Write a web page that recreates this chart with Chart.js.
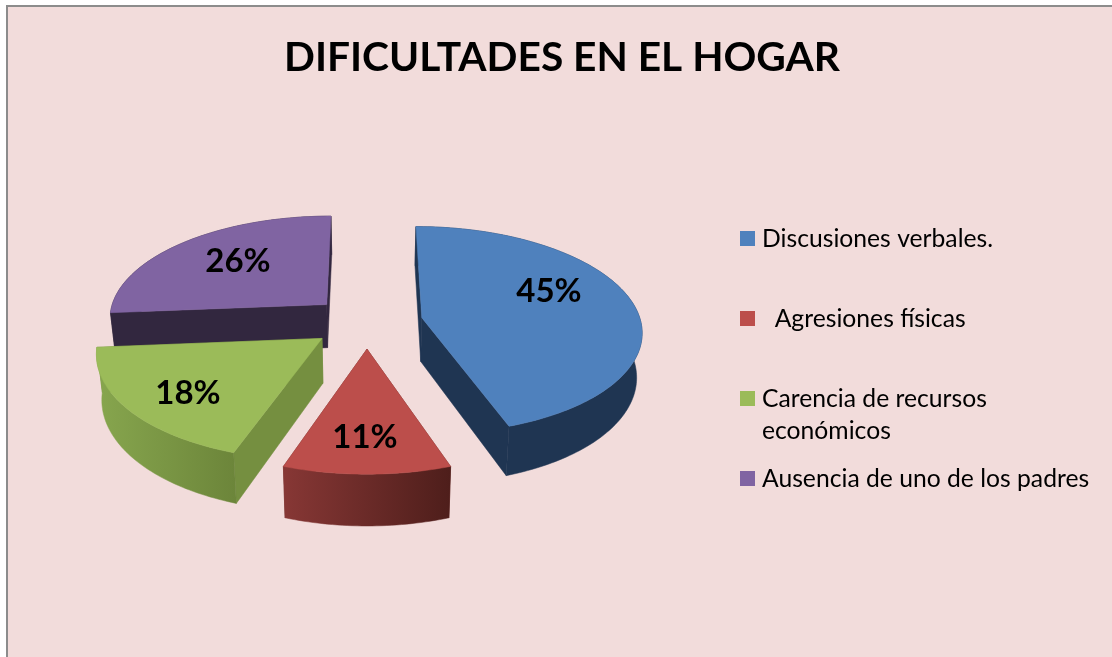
<!DOCTYPE html>
<html lang="es">
<head>
<meta charset="utf-8">
<title>Dificultades en el hogar</title>
<script src="https://cdn.jsdelivr.net/npm/chart.js@4"></script>
<style>html,body{margin:0;padding:0;background:#fff}canvas{display:block}</style>
</head>
<body>
<canvas id="c" width="1112" height="657"></canvas>
<script>
const titleText = 'DIFICULTADES EN EL HOGAR';
const categories = ['Discusiones verbales.', '  Agresiones físicas', 'Carencia de recursos económicos', 'Ausencia de uno de los padres'];
const legendLines = [['Discusiones verbales.'], ['  Agresiones físicas'], ['Carencia de recursos', 'económicos'], ['Ausencia de uno de los padres']];
const values = [44.7, 10.6, 18.4, 26.3];
const topColors = ['#4f81bd', '#bc4e4b', '#9bbb59', '#8064a2'];
const radialWallColors = ['#1f3552', '#6b2a27', '#758f40', '#32273f'];
const outerWallLeft = ['#1f3552', '#873735', '#87a64e', '#32273f'];
const outerWallRight = ['#1f3552', '#4e1e1b', '#6c853a', '#32273f'];
const labelCenters = [[549, 291], [365, 437], [188, 393], [238, 261]];
const legendRows = [239, 319, 399, 479];

const view = {cx: 367, cy: 322, rx: 219, ry: 103, persp: 0.12, depth: 44, taper: 0.02, explode: 0.255};

function project(x, y, z) {
  const w = 1 - view.persp * y;
  return [view.cx + view.rx * x * (1 - view.taper * z) / w, view.cy + (view.ry * y + view.depth * z) / w];
}
function poly(ctx, pts, fill) {
  ctx.beginPath();
  pts.forEach((p, i) => i ? ctx.lineTo(p[0], p[1]) : ctx.moveTo(p[0], p[1]));
  ctx.closePath();
  ctx.fillStyle = fill;
  ctx.strokeStyle = fill;
  ctx.lineWidth = 0.5;
  ctx.fill();
  ctx.stroke();
}

const page = {
  id: 'page',
  beforeDraw(chart) {
    const ctx = chart.ctx;
    ctx.save();
    ctx.fillStyle = '#ffffff';
    ctx.fillRect(0, 0, chart.width, chart.height);
    ctx.fillStyle = '#8c8c8c';
    ctx.fillRect(6, 5, chart.width - 6, chart.height - 5);
    ctx.fillStyle = '#f2dcdb';
    ctx.fillRect(8, 7, chart.width - 8, chart.height - 7);
    ctx.restore();
  }
};

const pie3d = {
  id: 'pie3d',
  beforeDatasetsDraw(chart) {
    const ctx = chart.ctx;
    const arcs = chart.getDatasetMeta(0).data;
    const slices = arcs.map((arc, i) => {
      const a0 = arc.startAngle + Math.PI / 2, a1 = arc.endAngle + Math.PI / 2;
      const mid = (a0 + a1) / 2;
      const ox = Math.sin(mid) * view.explode, oy = -Math.cos(mid) * view.explode;
      const rim = [];
      const n = Math.ceil((a1 - a0) / 0.02);
      for (let k = 0; k <= n; k++) {
        const t = a0 + (a1 - a0) * k / n;
        rim.push([ox + Math.sin(t), oy - Math.cos(t)]);
      }
      return {i, ox, oy, rim, sortY: oy};
    });
    slices.sort((a, b) => a.sortY - b.sortY);
    ctx.save();
    for (const s of slices) {
      const apex = [s.ox, s.oy];
      const first = s.rim[0], last = s.rim[s.rim.length - 1];
      const walls = [[apex, first], [apex, last]].sort((a, b) => (a[0][1] + a[1][1]) - (b[0][1] + b[1][1]));
      const quad = (w) => [project(w[0][0], w[0][1], 0), project(w[1][0], w[1][1], 0), project(w[1][0], w[1][1], 1), project(w[0][0], w[0][1], 1)];
      poly(ctx, quad(walls[0]), radialWallColors[s.i]);
      poly(ctx, quad(walls[1]), radialWallColors[s.i]);
      const tops = s.rim.map(p => project(p[0], p[1], 0));
      const bottoms = s.rim.map(p => project(p[0], p[1], 1)).reverse();
      const outer = tops.concat(bottoms);
      const xs = outer.map(p => p[0]);
      const g = ctx.createLinearGradient(Math.min(...xs), 0, Math.max(...xs), 0);
      g.addColorStop(0, outerWallLeft[s.i]);
      g.addColorStop(1, outerWallRight[s.i]);
      poly(ctx, outer, g);
      poly(ctx, [project(apex[0], apex[1], 0)].concat(tops), topColors[s.i]);
    }
    ctx.restore();
    return false;
  }
};

const overlay = {
  id: 'overlay',
  afterDraw(chart) {
    const ctx = chart.ctx;
    ctx.save();
    ctx.fillStyle = '#000';
    ctx.textAlign = 'center';
    ctx.textBaseline = 'middle';
    ctx.font = 'bold 33px Lato';
    values.forEach((v, i) => ctx.fillText(Math.round(v) + '%', labelCenters[i][0], labelCenters[i][1]));
    ctx.textAlign = 'left';
    ctx.font = '24.7px Lato';
    legendLines.forEach((lines, i) => {
      ctx.fillStyle = topColors[i];
      ctx.fillRect(740, legendRows[i] - 8, 15, 15);
      ctx.fillStyle = '#000';
      lines.forEach((t, k) => ctx.fillText(t, 762, legendRows[i] + k * 32));
    });
    ctx.restore();
  }
};

new Chart(document.getElementById('c'), {
  type: 'pie',
  data: {labels: categories, datasets: [{data: values, backgroundColor: topColors, borderWidth: 0}]},
  options: {
    responsive: false,
    animation: false,
    layout: {padding: {left: 12}},
    plugins: {
      legend: {display: false},
      tooltip: {enabled: false},
      title: {display: true, text: titleText, color: '#000', font: {family: 'Lato', size: 40.7, weight: 'bold'}, padding: {top: 33, bottom: 20}}
    }
  },
  plugins: [page, pie3d, overlay]
});
</script>
</body>
</html>
